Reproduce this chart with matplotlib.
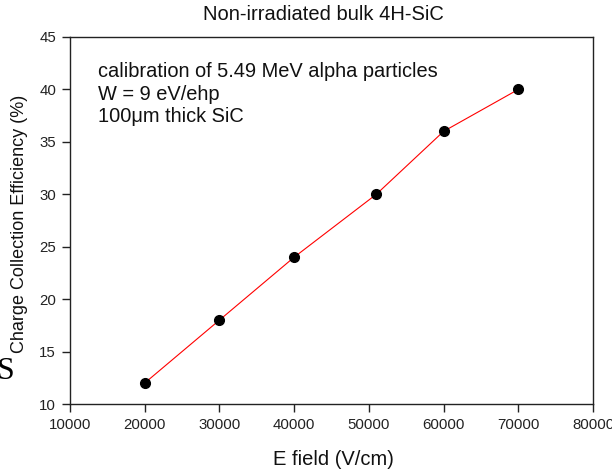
import matplotlib
matplotlib.use("Agg")
import matplotlib.pyplot as plt

plt.rcParams['font.family'] = ['Liberation Sans', 'DejaVu Sans']

e_field = [20000, 30000, 40000, 51000, 60000, 70000]
cce = [12, 18, 24, 30, 36, 40]
x_ticks = [10000, 20000, 30000, 40000, 50000, 60000, 70000, 80000]
y_ticks = [10, 15, 20, 25, 30, 35, 40, 45]
notes = ['calibration of 5.49 MeV alpha particles', 'W = 9 eV/ehp', '100μm thick SiC']

W, H = 612, 473
fig = plt.figure(figsize=(W/100, H/100), dpi=100)
ax = fig.add_axes([70/W, 1-404/H, (593-70)/W, (404-37)/H])

ax.plot(e_field, cce, color='red', linewidth=0.8, zorder=2)
ax.plot(e_field, cce, 'o', color='black', markersize=7, zorder=3)

ax.set_xlim(10000, 80000)
ax.set_ylim(10, 45)
ax.set_xticks(x_ticks)
ax.set_yticks(y_ticks)
ax.tick_params(direction='out', length=6, width=1, labelsize=10.8, colors='#222222', pad=4)
for s in ax.spines.values():
    s.set_linewidth(1)
    s.set_color('#222222')

fig.text(323/W, 1-20/H, 'Non-irradiated bulk 4H-SiC', fontsize=14.5, ha='center', va='baseline', color='#111111')
fig.text(333/W, 1-465/H, 'E field (V/cm)', fontsize=14.5, ha='center', va='baseline', color='#111111')
fig.text(20/W, 1-224/H, 'Charge Collection Efficiency (%)', fontsize=13, rotation=90,
         ha='center', va='center', color='#111111')

for txt, yb in zip(notes, [77, 100, 122.5]):
    fig.text(98/W, 1-yb/H, txt, fontsize=14.4, ha='left', va='baseline', color='#111111')

fig.text(6/W, 1-371/H, 'S', fontsize=23, family='Liberation Serif', ha='center', va='center')

fig.savefig('out.png', dpi=100)
